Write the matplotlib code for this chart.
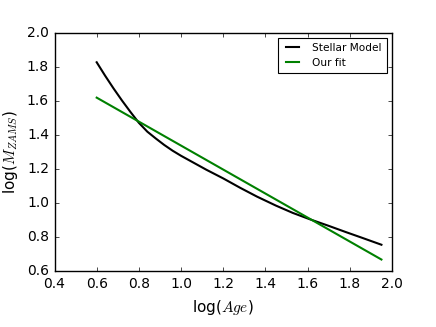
import matplotlib
matplotlib.use("Agg")
import matplotlib.pyplot as plt

plt.style.use("classic")

# Stellar model curve
model_x = [0.60, 0.64, 0.68, 0.72, 0.76, 0.80, 0.84, 0.88, 0.92, 0.96, 1.00, 1.06,
           1.12, 1.20, 1.28, 1.36, 1.45, 1.53, 1.61, 1.70, 1.78, 1.86, 1.95]
model_y = [1.828, 1.749, 1.674, 1.603, 1.536, 1.472, 1.42, 1.38, 1.342, 1.308, 1.278, 1.237,
           1.196, 1.145, 1.09, 1.038, 0.985, 0.942, 0.905, 0.866, 0.83, 0.795, 0.755]

# Linear fit endpoints
fit_x = [0.60, 1.95]
fit_y = [1.62, 0.668]

xticks = [0.4, 0.6, 0.8, 1.0, 1.2, 1.4, 1.6, 1.8, 2.0]
yticks = [0.6, 0.8, 1.0, 1.2, 1.4, 1.6, 1.8, 2.0]

fig = plt.figure(figsize=(4.36, 3.27), dpi=100, facecolor="white")
ax = fig.add_axes([0.125, 0.171, 0.774, 0.728])

ax.plot(model_x, model_y, color="black", lw=1.5, label="Stellar Model")
ax.plot(fit_x, fit_y, color="green", lw=1.5, label="Our fit")

ax.set_xlim(0.4, 2.0)
ax.set_ylim(0.6, 2.0)
ax.set_xticks(xticks)
ax.set_yticks(yticks)
ax.set_xticklabels([f"{t:.1f}" for t in xticks])
ax.set_yticklabels([f"{t:.1f}" for t in yticks])
ax.tick_params(labelsize=10, direction="in", length=3, width=0.5)

ax.set_xlabel(r"log($Age$)", fontsize=11)
ax.set_ylabel(r"log($M_{ZAMS}$)", fontsize=11)

leg = ax.legend(loc="upper right", fontsize=7.6, frameon=True, handlelength=1.8,
                handletextpad=1.0, borderpad=0.45, labelspacing=0.45,
                borderaxespad=0.5)
leg.get_frame().set_linewidth(0.8)

fig.savefig("out.png", dpi=100, facecolor="white")
